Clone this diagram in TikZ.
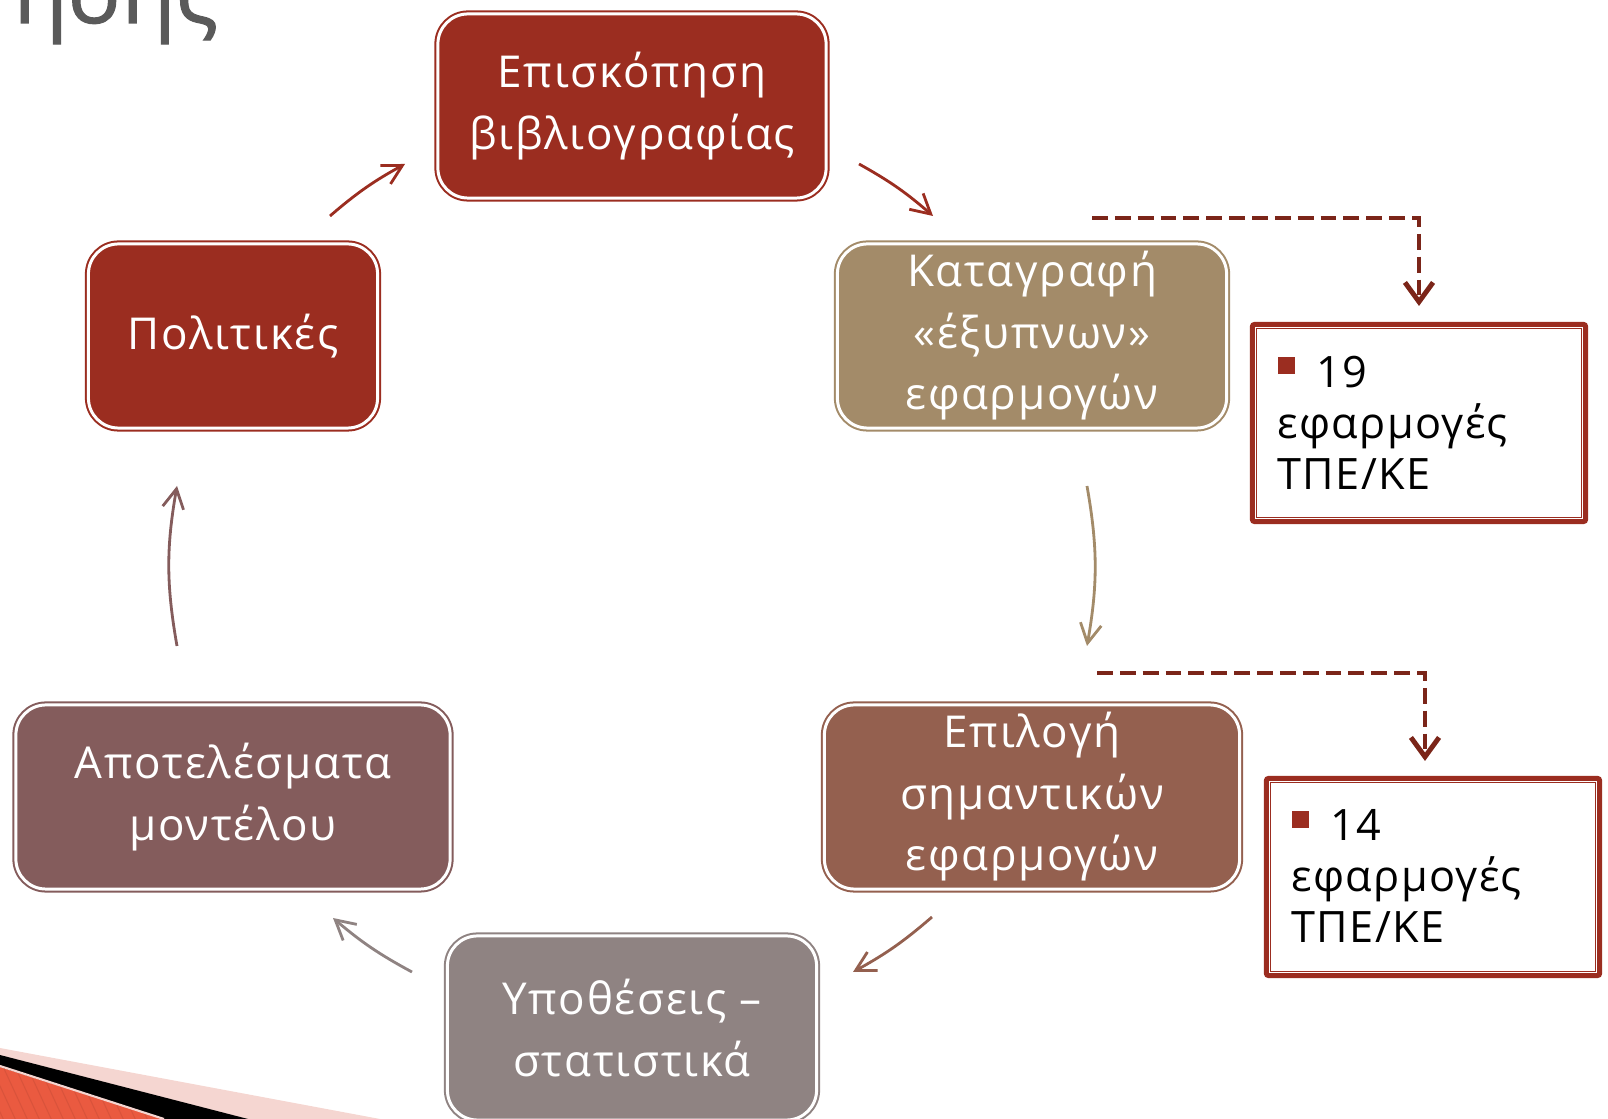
\documentclass[tikz,border=0pt]{standalone}
\usepackage{fontspec}
\setmainfont{Open Sans}
\newfontfamily\cyclefont[LetterSpace=4]{Open Sans}
\newfontfamily\notefont[LetterSpace=3]{Open Sans}
\newfontfamily\titlefont[FakeBold=1.2]{Open Sans}
\usepackage{xcolor}
\usepackage{tikz}
\usetikzlibrary{arrows.meta}

\definecolor{redbox}{HTML}{9B2D20}
\definecolor{tanbox}{HTML}{A38B69}
\definecolor{brownbox}{HTML}{94604F}
\definecolor{greybox}{HTML}{8F8382}
\definecolor{mauvebox}{HTML}{845C5C}
\definecolor{dashred}{HTML}{7B2519}
\definecolor{titlegrey}{HTML}{5A5A5A}
\definecolor{stripeorange}{HTML}{EA5A40}
\definecolor{stripepink}{HTML}{F5D6D1}

\begin{document}
\begin{tikzpicture}[
    x=0.01cm, y=-0.01cm,
    stage/.style={
        rounded corners=0.3cm,
        fill=#1,
        draw=white,
        line width=0.85pt,
        preaction={draw=#1, line width=2pt},
        text=white,
        align=center,
        inner sep=0pt,
        minimum height=1.84cm,
        font=\cyclefont\fontsize{12.5}{17.5}\selectfont
    },
    notebox/.style={
        draw=redbox,
        line width=1.4pt,
        rounded corners=0.02cm,
        minimum width=3.33cm,
        minimum height=1.97cm,
        inner sep=0pt
    },
    notetext/.style={
        anchor=north west,
        inner sep=0pt,
        align=left,
        font=\notefont\fontsize{12.3}{14.5}\selectfont
    },
    cyclearrow/.style={
        -{Straight Barb[length=5.5pt,width=6pt]},
        line width=0.8pt,
        draw=#1
    },
    dasharrow/.style={
        -{Straight Barb[length=5.5pt,width=8pt]},
        draw=dashred,
        line width=1.4pt,
        dash pattern=on 4.5pt off 2pt
    }
]
\path[use as bounding box, clip] (0,0) rectangle (1608,1119);

% Title fragment and corner stripes
\node[anchor=base west, inner sep=0pt, text=titlegrey, font=\titlefont\fontsize{25}{30}\selectfont] (title) at (13,23) {ησης};
\fill[stripepink] (0,1048) -- (380,1119) -- (0,1119) -- cycle;
\fill[black] (0,1055) -- (248,1119) -- (0,1119) -- cycle;
\fill[stripeorange] (0,1067) -- (163,1119) -- (0,1119) -- cycle;
\begin{scope}
    \clip (0,1067) -- (163,1119) -- (0,1119) -- cycle;
    \foreach \i in {-60,-48,...,170}
        \draw[stripeorange!80!black, line width=0.3pt, opacity=0.35] (\i,1060) -- (\i+30,1125);
\end{scope}
\draw[stripepink, line width=0.6pt] (0,1066) -- (164,1119);

% Cycle
\node[stage=redbox, minimum width=3.88cm] (review) at (632,106) {Επισκόπηση\\βιβλιογραφίας};
\node[stage=tanbox, minimum width=3.89cm] (record) at (1032,336) {Καταγραφή\\«έξυπνων»\\εφαρμογών};
\node[stage=brownbox, minimum width=4.15cm] (select) at (1032,797) {Επιλογή\\σημαντικών\\εφαρμογών};
\node[stage=greybox, minimum width=3.69cm] (hypo) at (632,1028) {Υποθέσεις –\\στατιστικά};
\node[stage=mauvebox, minimum width=4.34cm] (results) at (233,797) {Αποτελέσματα\\μοντέλου};
\node[stage=redbox, minimum width=2.89cm] (policy) at (233,336) {Πολιτικές};

% Side notes
\node[notebox] (n19) at (1419,423) {};
\node[notebox] (n14) at (1433,877) {};
\foreach \n in {n19,n14}
    \draw[redbox, line width=0.45pt] ([shift={(0.065cm,0.065cm)}]\n.south west) rectangle ([shift={(-0.065cm,-0.065cm)}]\n.north east);
\node[notetext] (t19) at (1277,355) {\textcolor{redbox}{\rule[0.13cm]{0.17cm}{0.17cm}}\hspace{0.22cm}19\\εφαρμογές\\ΤΠΕ/ΚΕ};
\node[notetext] (t14) at (1291,809) {\textcolor{redbox}{\rule[0.13cm]{0.17cm}{0.17cm}}\hspace{0.22cm}14\\εφαρμογές\\ΤΠΕ/ΚΕ};

% Arrow ends
\coordinate (a1) at (330,216);  \coordinate (a2) at (405,164);
\coordinate (b1) at (859,164);  \coordinate (b2) at (933,216);
\coordinate (c1) at (1087,486); \coordinate (c2) at (1087,646);
\coordinate (d1) at (932,917);  \coordinate (d2) at (853,972);
\coordinate (e1) at (412,972);  \coordinate (e2) at (333,918);
\coordinate (f1) at (177,646);  \coordinate (f2) at (177,486);
\coordinate (s19) at (1092,218);
\coordinate (s14) at (1097,673);

% Arrows
\draw[cyclearrow=redbox] (a1) to[bend left=6] (a2);
\draw[cyclearrow=redbox] (b1) to[bend left=6] (b2);
\draw[cyclearrow=tanbox] (c1) to[bend left=10] (c2);
\draw[cyclearrow=brownbox] (d1) to[bend left=6] (d2);
\draw[cyclearrow=greybox] (e1) to[bend left=6] (e2);
\draw[cyclearrow=mauvebox] (f1) to[bend left=10] (f2);
\draw[dasharrow, shorten >=0.16cm] (s19) -| (n19);
\draw[dasharrow, shorten >=0.15cm] (s14) -| ([xshift=-0.08cm]n14.north);

\end{tikzpicture}
\end{document}
